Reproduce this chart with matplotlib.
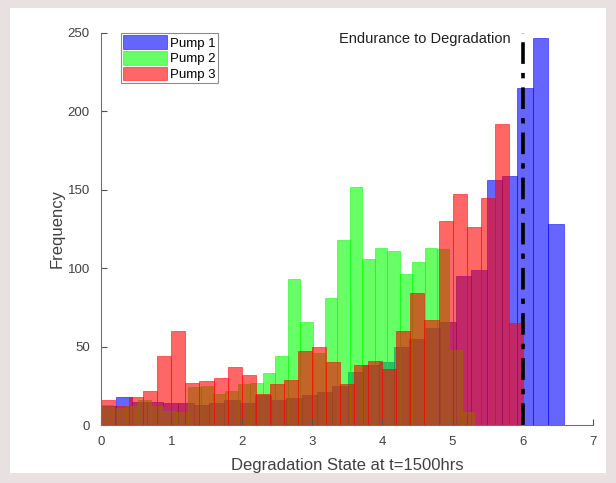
import numpy as np
import matplotlib.pyplot as plt
from matplotlib.patches import Rectangle

plt.rcParams['font.family'] = ['Liberation Sans', 'DejaVu Sans']

# histogram counts (30 bins per pump, each over its own range)
pump1_range = (0.0, 6.58)
pump1_counts = [12, 18, 15, 15, 14, 14, 13, 14, 16, 14, 19, 16, 17, 19, 21,
                25, 34, 38, 40, 50, 55, 62, 66, 95, 99, 156, 159, 215, 247, 128]

pump2_range = (0.0, 5.31)
pump2_counts = [13, 11, 12, 16, 12, 9, 8, 24, 25, 20, 22, 26, 27, 33, 44,
                93, 66, 46, 81, 118, 152, 106, 113, 111, 96, 104, 113, 112, 48, 8]

pump3_range = (0.0, 6.0)
pump3_counts = [16, 12, 18, 22, 44, 60, 27, 28, 30, 37, 32, 20, 26, 29, 47,
                50, 40, 26, 38, 41, 36, 60, 84, 67, 130, 147, 126, 145, 192, 65]

labels = ['Pump 1', 'Pump 2', 'Pump 3']
colors = [(0, 0, 1), (0, 1, 0), (1, 0, 0)]
endurance = 6.0

fig = plt.figure(figsize=(6.16, 4.83), dpi=100)
fig.patch.set_facecolor('#e9e1e1')
fig.patches.append(Rectangle((0.016, 0.02), 0.967, 0.963, transform=fig.transFigure,
                             facecolor='white', edgecolor='none', zorder=-10))
ax = fig.add_axes([0.164, 0.120, 0.799, 0.812])
ax.set_zorder(5)
ax.patch.set_alpha(0)

series = [(pump1_range, pump1_counts), (pump2_range, pump2_counts), (pump3_range, pump3_counts)]
for (rng, counts), lab, col in zip(series, labels, colors):
    edges = np.linspace(rng[0], rng[1], len(counts) + 1)
    ax.hist(edges[:-1], bins=edges, weights=counts, color=col, alpha=0.6,
            edgecolor=col, linewidth=0.6, label=lab)

ax.axvline(endurance, color='black', linestyle=(0, (6, 2.5, 1.5, 2.5)), linewidth=2.6, zorder=5)
ax.text(5.83, 246, 'Endurance to Degradation', ha='right', va='center', fontsize=10.5, color='#202020')

ax.set_xlim(0, 7)
ax.set_ylim(0, 250)
ax.set_xticks(range(0, 8))
ax.set_yticks(range(0, 251, 50))
ax.set_xlabel('Degradation State at t=1500hrs', fontsize=12, color='#404040', labelpad=7)
ax.set_ylabel('Frequency', fontsize=12, color='#404040', labelpad=2)
ax.tick_params(direction='in', length=4, colors='#505050', labelsize=9.5, labelcolor='#404040', pad=8)
for s in ['top', 'right']:
    ax.spines[s].set_visible(False)
for s in ['left', 'bottom']:
    ax.spines[s].set_color('#707070')

leg = ax.legend(loc='upper left', bbox_to_anchor=(0.04, 1.0), fontsize=9.5, frameon=True,
                fancybox=False, handlelength=3.3, handleheight=1.2, handletextpad=0.2,
                borderpad=0.2, labelspacing=0.1, borderaxespad=0.0)
leg.get_frame().set_edgecolor('#707070')
leg.get_frame().set_linewidth(0.8)

plt.savefig('out.png', dpi=100, facecolor=fig.get_facecolor())
